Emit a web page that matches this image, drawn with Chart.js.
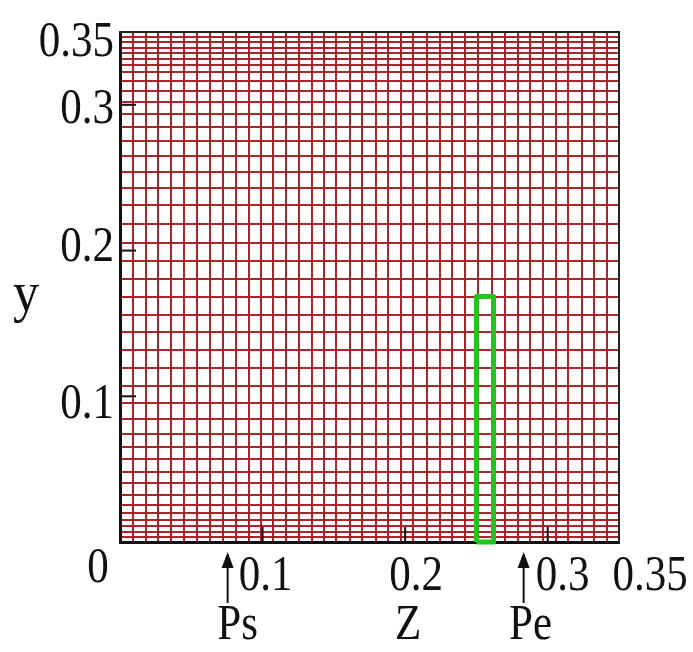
<!DOCTYPE html>
<html>
<head>
<meta charset="utf-8">
<script src="https://cdn.jsdelivr.net/npm/chart.js@4.4.1/dist/chart.umd.min.js"></script>
<style>
  html, body { margin: 0; padding: 0; background: #fff; }
  #wrap { width: 693px; height: 652px; }
</style>
</head>
<body>
<div id="wrap"><canvas id="mesh" width="693" height="652"></canvas></div>
<script>
// mesh lines (z direction)
const gridX = [0.0089, 0.0180, 0.0269, 0.0358, 0.0449, 0.0538, 0.0631, 0.0725, 0.0817,
  0.0905, 0.0989, 0.1073, 0.1162, 0.1256, 0.1347, 0.1431, 0.1515, 0.1613, 0.1697,
  0.1796, 0.1882, 0.1969, 0.2057, 0.2151, 0.2245, 0.2329, 0.2423, 0.2513, 0.2607,
  0.2700, 0.2792, 0.2879, 0.2967, 0.3058, 0.3144, 0.3238, 0.3325, 0.3416];
// mesh lines (y direction), clustered at top and bottom
const gridY = [0.0034, 0.0069, 0.0110, 0.0151, 0.0199, 0.0254, 0.0323, 0.0405, 0.0480,
  0.0570, 0.0652, 0.0741, 0.0844, 0.0954, 0.1071, 0.1194, 0.1318, 0.1441, 0.1558,
  0.1681, 0.1805, 0.1928, 0.2052, 0.2182, 0.2313, 0.2430, 0.2539, 0.2649, 0.2752,
  0.2848, 0.2937, 0.3020, 0.3095, 0.3164, 0.3226, 0.3274, 0.3315, 0.3356, 0.3390,
  0.3431, 0.3466];
// green box
const boxX = [0.2500, 0.2500, 0.2620, 0.2620, 0.2500];
const boxY = [0, 0.1684, 0.1684, 0, 0];

const tickValues = [0.1, 0.2, 0.3];
const xLabelValues = [0, 0.1, 0.2, 0.3, 0.35];
const xLabels = ["0", "0.1", "0.2", "0.3", "0.35"];
const yLabelValues = [0.1, 0.2, 0.3, 0.35];
const yLabels = ["0.1", "0.2", "0.3", "0.35"];
const markerValues = [0.0755, 0.2831];
const markerLabels = ["Ps", "Pe"];
const zTitle = "Z";
const yTitle = "y";

const FONT = '"Liberation Serif", "DejaVu Serif", serif';
const xNudge = [-22, 3, 11, 15, 31];
const yNudge = [9, -3, 5, 11];

// narrow, tall serif text like the original figure
function label(ctx, str, x, y, align, size, squeeze) {
  ctx.save();
  ctx.translate(x, y);
  ctx.scale(squeeze, 1);
  ctx.font = `${size}px ${FONT}`;
  ctx.textAlign = align;
  ctx.textBaseline = "middle";
  ctx.fillText(str, 0, 0);
  ctx.restore();
}

const decor = {
  id: "decor",
  afterDraw(c) {
    const ctx = c.ctx;
    const xs = c.scales.x, ys = c.scales.y;
    const a = c.chartArea;
    ctx.save();
    // inner tick marks
    ctx.strokeStyle = "#111";
    ctx.fillStyle = "#111";
    ctx.lineWidth = 2;
    tickValues.forEach((v) => {
      const px = xs.getPixelForValue(v);
      ctx.beginPath(); ctx.moveTo(px, a.bottom); ctx.lineTo(px, a.bottom - 15); ctx.stroke();
      const py = ys.getPixelForValue(v);
      ctx.beginPath(); ctx.moveTo(a.left, py); ctx.lineTo(a.left + 16, py); ctx.stroke();
    });

    xLabelValues.forEach((v, i) => {
      const y = i === 0 ? 569 : 577;
      label(ctx, xLabels[i], xs.getPixelForValue(v) + xNudge[i], y, "center", 50, 0.86);
    });
    yLabelValues.forEach((v, i) => {
      label(ctx, yLabels[i], 114, ys.getPixelForValue(v) + yNudge[i], "right", 50, 0.86);
    });

    // arrows and their names
    markerValues.forEach((v, i) => {
      const px = xs.getPixelForValue(v);
      ctx.beginPath(); ctx.moveTo(px, 565); ctx.lineTo(px, 603); ctx.stroke();
      ctx.beginPath();
      ctx.moveTo(px, 552); ctx.lineTo(px - 6, 568); ctx.lineTo(px + 6, 568);
      ctx.closePath(); ctx.fill();
      label(ctx, markerLabels[i], px + (i === 0 ? 10 : 7), 626, "center", 50, 0.86);
    });
    label(ctx, zTitle, xs.getPixelForValue(0.2) + 3, 626, "center", 50, 0.86);
    label(ctx, yTitle, 26, 296, "center", 58, 0.9);
    ctx.restore();
  }
};

const edge = (pos, axis) => ({
  type: "linear", position: pos, axis: axis, min: 0, max: 0.35,
  grid: { display: false, drawTicks: false },
  ticks: { display: false },
  border: { display: true, color: "#222", width: 2 }
});

new Chart(document.getElementById("mesh"), {
  type: "scatter",
  data: {
    datasets: [{
      data: boxX.map((x, i) => ({ x: x, y: boxY[i] })),
      showLine: true,
      borderColor: "#22c41f",
      borderWidth: 5,
      borderJoinStyle: "round",
      pointRadius: 0,
      tension: 0,
      clip: 6
    }]
  },
  options: {
    responsive: false,
    animation: false,
    devicePixelRatio: 1,
    layout: { padding: { left: 120, top: 32, right: 74, bottom: 110 } },
    plugins: { legend: { display: false }, tooltip: { enabled: false } },
    scales: {
      x: {
        type: "linear", min: 0, max: 0.35,
        afterBuildTicks: (s) => { s.ticks = gridX.map((v) => ({ value: v })); },
        grid: { color: "rgba(165,26,32,0.95)", lineWidth: 2, drawTicks: false },
        ticks: { display: false },
        border: { display: true, color: "#111", width: 3 }
      },
      y: {
        type: "linear", min: 0, max: 0.35,
        afterBuildTicks: (s) => { s.ticks = gridY.map((v) => ({ value: v })); },
        grid: { color: "rgba(165,26,32,0.95)", lineWidth: 2, drawTicks: false },
        ticks: { display: false },
        border: { display: true, color: "#111", width: 3 }
      },
      xTop: edge("top", "x"),
      yRight: edge("right", "y")
    }
  },
  plugins: [decor]
});
</script>
</body>
</html>
